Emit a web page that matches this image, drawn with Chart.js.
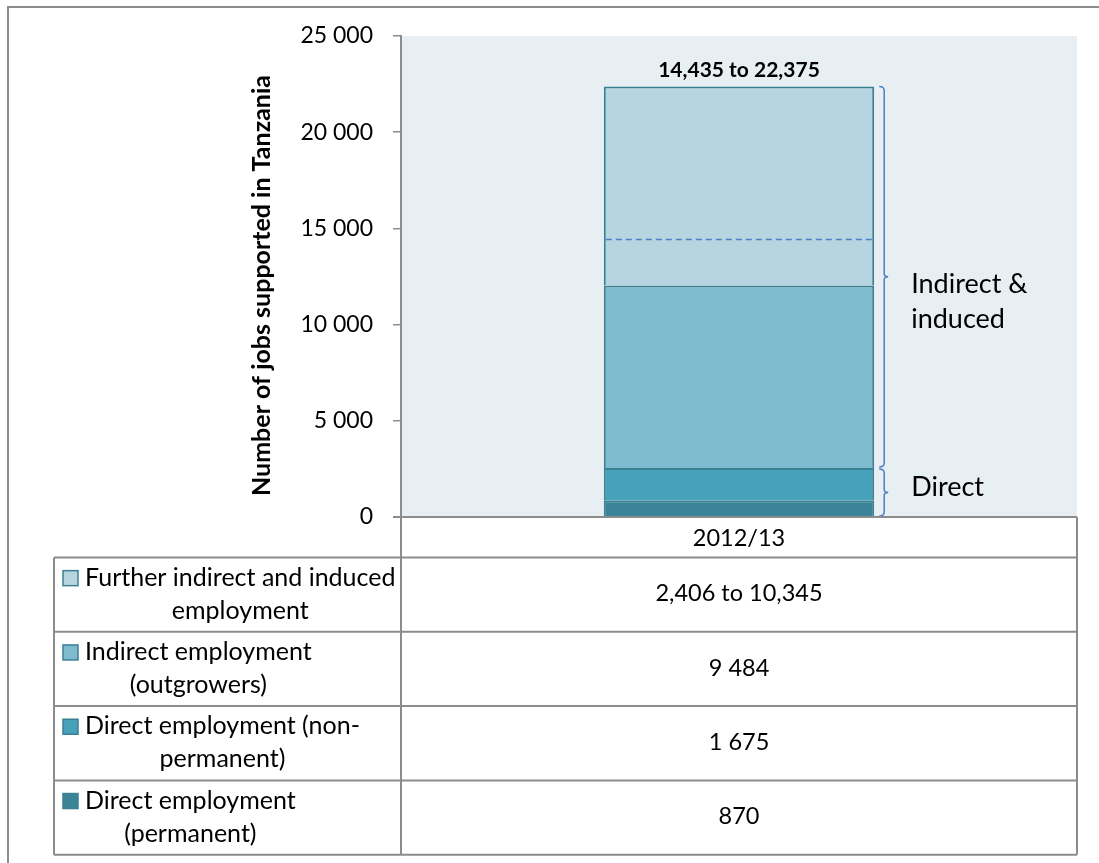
<!DOCTYPE html>
<html>
<head>
<meta charset="utf-8">
<script src="https://cdn.jsdelivr.net/npm/chart.js@4"></script>
<style>
  html, body { margin: 0; padding: 0; background: #fff; }
  #wrap { width: 1099px; height: 863px; position: relative; }
</style>
</head>
<body>
<div id="wrap"><canvas id="jobsChart"></canvas></div>
<script>
// data
const categories = ["2012/13"];
const seriesNames = [
    "Direct employment (permanent)",
    "Direct employment (non-permanent)",
    "Indirect employment (outgrowers)",
    "Further indirect and induced employment"
];
const permanentJobs = [870];
const nonPermanentJobs = [1675];
const outgrowerJobs = [9484];
const furtherJobsLow = [2406];
const furtherJobsHigh = [10345];
const totalLabel = "14,435 to 22,375";
const tableValues = ["2,406 to 10,345", "9 484", "1 675", "870"];
// legend text rows of the data table, top to bottom
const tableRows = [
    ["Further indirect and induced", "employment"],
    ["Indirect employment", "(outgrowers)"],
    ["Direct employment (non-", "permanent)"],
    ["Direct employment", "(permanent)"]
];
const bracketLabels = [["Indirect &", "induced"], ["Direct"]];
const yMax = 25000;
const yStep = 5000;

const colors = ["#3b8497", "#47a1b9", "#7fbbcf", "#b7d5e0"];
const barBorder = "#3a8194";
const gridGray = "#8c8c8c";
const blue = "#4a7ec8";
const FONT = "Lato, 'DejaVu Sans', sans-serif";

// pinta fondo, tabla, corchetes etc.
const extrasPlugin = {
    id: "extras",
    beforeDraw(chart) {
        const { ctx, chartArea } = chart;
        ctx.save();
        ctx.fillStyle = "#ffffff";
        ctx.fillRect(0, 0, chart.width, chart.height);
        ctx.fillStyle = "#e8eff3";
        ctx.fillRect(chartArea.left, chartArea.top, chartArea.right - chartArea.left, chartArea.bottom - chartArea.top);
        ctx.restore();
    },
    afterDatasetsDraw(chart) {
        const { ctx, scales } = chart;
        const y = scales.y;
        const bar = chart.getDatasetMeta(3).data[0];
        const left = bar.x - bar.width / 2;
        const right = bar.x + bar.width / 2;

        // dashed line for the low estimate
        const low = permanentJobs[0] + nonPermanentJobs[0] + outgrowerJobs[0] + furtherJobsLow[0];
        const yLow = Math.round(y.getPixelForValue(low)) + 0.5;
        ctx.save();
        ctx.strokeStyle = blue;
        ctx.lineWidth = 1.5;
        ctx.setLineDash([6, 4]);
        ctx.beginPath();
        ctx.moveTo(left + 2, yLow);
        ctx.lineTo(right - 2, yLow);
        ctx.stroke();
        ctx.restore();

        // total label on top
        const total = permanentJobs[0] + nonPermanentJobs[0] + outgrowerJobs[0] + furtherJobsHigh[0];
        ctx.save();
        ctx.fillStyle = "#000";
        ctx.font = "bold 21px " + FONT;
        ctx.textAlign = "center";
        ctx.textBaseline = "middle";
        ctx.fillText(totalLabel, bar.x, y.getPixelForValue(total) - 16);
        ctx.restore();

        // brackets
        const direct = permanentJobs[0] + nonPermanentJobs[0];
        const bx = right + 10;
        drawBracket(ctx, bx, y.getPixelForValue(total), y.getPixelForValue(direct) - 1);
        drawBracket(ctx, bx, y.getPixelForValue(direct) + 1, y.getPixelForValue(0) - 1);

        ctx.save();
        ctx.fillStyle = "#000";
        ctx.font = "27px " + FONT;
        ctx.textAlign = "left";
        ctx.textBaseline = "middle";
        const midTop = (y.getPixelForValue(total) + y.getPixelForValue(direct)) / 2;
        ctx.fillText(bracketLabels[0][0], bx + 27, midTop + 7);
        ctx.fillText(bracketLabels[0][1], bx + 27, midTop + 42);
        ctx.fillText(bracketLabels[1][0], bx + 27, (y.getPixelForValue(direct) + y.getPixelForValue(0)) / 2 - 5);
        ctx.restore();
    },
    afterDraw(chart) {
        const { ctx, chartArea } = chart;
        const bar = chart.getDatasetMeta(0).data[0];
        const tLeft = 54;
        const mid = chartArea.left;
        const tRight = chartArea.right;
        const axisY = chartArea.bottom;
        const catBottom = axisY + 40.5;
        const rowH = 74.3;

        ctx.save();
        ctx.strokeStyle = gridGray;
        ctx.lineWidth = 2;
        ctx.beginPath();
        // x axis / top of category cell
        ctx.moveTo(mid - 8, axisY);
        ctx.lineTo(tRight, axisY);
        ctx.moveTo(mid, axisY);
        ctx.lineTo(mid, catBottom + rowH * 4);
        ctx.moveTo(tRight, axisY);
        ctx.lineTo(tRight, catBottom + rowH * 4);
        ctx.moveTo(tLeft, catBottom);
        ctx.lineTo(tLeft, catBottom + rowH * 4);
        for (let i = 0; i <= 4; i++) {
            ctx.moveTo(tLeft, catBottom + rowH * i);
            ctx.lineTo(tRight, catBottom + rowH * i);
        }
        ctx.stroke();

        // outer frame
        ctx.beginPath();
        ctx.moveTo(8, chart.height);
        ctx.lineTo(8, 7);
        ctx.lineTo(chart.width, 7);
        ctx.stroke();
        ctx.restore();

        ctx.save();
        ctx.fillStyle = "#000";
        ctx.font = "23.5px " + FONT;
        ctx.textAlign = "center";
        ctx.textBaseline = "middle";
        ctx.fillText(categories[0], bar.x, (axisY + catBottom) / 2 + 1);

        for (let i = 0; i < 4; i++) {
            const rowTop = catBottom + rowH * i;
            const cy = rowTop + rowH / 2;
            ctx.font = "23.5px " + FONT;
            ctx.textAlign = "center";
            ctx.fillStyle = "#000";
            ctx.fillText(tableValues[i], bar.x, cy - 1);

            // legend key
            const lines = tableRows[i];
            const colorIdx = 3 - i;
            const l1 = cy - 17;
            ctx.fillStyle = colors[colorIdx];
            ctx.fillRect(63, l1 - 7, 15, 15);
            ctx.strokeStyle = barBorder;
            ctx.lineWidth = 1.5;
            ctx.strokeRect(63, l1 - 7, 15, 15);

            ctx.fillStyle = "#000";
            ctx.font = "25px " + FONT;
            const textLeft = 85;
            const w = ctx.measureText(lines[0]).width;
            ctx.textAlign = "left";
            ctx.fillText(lines[0], textLeft, l1);
            ctx.textAlign = "center";
            ctx.fillText(lines[1], textLeft + w / 2, cy + 16);
        }
        ctx.restore();

        // y axis title
        ctx.save();
        ctx.translate(262, (chartArea.top + chartArea.bottom) / 2 + 9);
        ctx.rotate(-Math.PI / 2);
        ctx.font = "bold 25px " + FONT;
        ctx.fillStyle = "#000";
        ctx.textAlign = "center";
        ctx.textBaseline = "middle";
        ctx.fillText("Number of jobs supported in Tanzania", 0, 0);
        ctx.restore();
    }
};

function drawBracket(ctx, x, top, bottom) {
    const m = (top + bottom) / 2;
    ctx.save();
    ctx.strokeStyle = blue;
    ctx.lineWidth = 1.5;
    ctx.beginPath();
    ctx.moveTo(x - 5, top);
    ctx.quadraticCurveTo(x, top, x, top + 4);
    ctx.lineTo(x, m - 3);
    ctx.quadraticCurveTo(x, m, x + 4, m);
    ctx.quadraticCurveTo(x, m, x, m + 3);
    ctx.lineTo(x, bottom - 4);
    ctx.quadraticCurveTo(x, bottom, x - 5, bottom);
    ctx.stroke();
    ctx.restore();
}

const seriesData = [permanentJobs, nonPermanentJobs, outgrowerJobs, furtherJobsHigh];

new Chart(document.getElementById("jobsChart"), {
    type: "bar",
    data: {
        labels: categories,
        datasets: seriesData.map((d, i) => ({
            label: seriesNames[i],
            data: d,
            backgroundColor: colors[i],
            borderColor: barBorder,
            borderWidth: 2,
            categoryPercentage: 1,
            barPercentage: 0.4
        }))
    },
    options: {
        responsive: true,
        maintainAspectRatio: false,
        animation: false,
        layout: {
            padding: { left: 0, right: 22, top: 36, bottom: 346 }
        },
        plugins: {
            legend: { display: false },
            tooltip: { enabled: false },
            title: { display: false }
        },
        scales: {
            x: {
                stacked: true,
                display: false
            },
            y: {
                stacked: true,
                min: 0,
                max: yMax,
                afterFit(scale) { scale.width = 401; },
                border: { display: true, color: gridGray, width: 2 },
                grid: {
                    drawOnChartArea: false,
                    drawTicks: true,
                    tickLength: 8,
                    color: gridGray,
                    lineWidth: 1.5
                },
                ticks: {
                    stepSize: yStep,
                    padding: 20,
                    color: "#000",
                    font: { family: "Lato", size: 23 },
                    callback: v => v.toString().replace(/\B(?=(\d{3})+(?!\d))/g, " ")
                }
            }
        }
    },
    plugins: [extrasPlugin]
});
</script>
</body>
</html>
